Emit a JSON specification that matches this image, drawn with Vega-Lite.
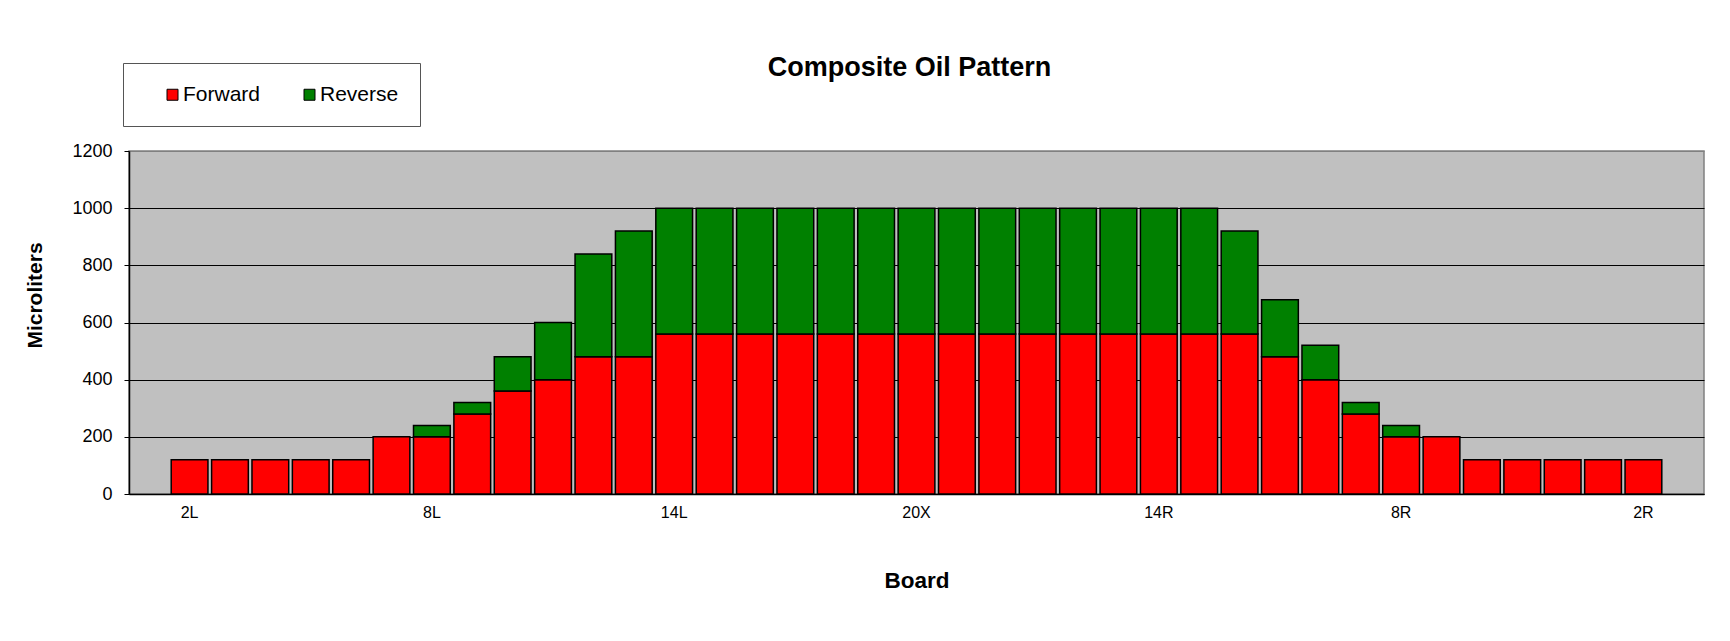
{
  "$schema": "https://vega.github.io/schema/vega-lite/v6.json",
  "autosize": {"type": "none"},
  "width": 1575,
  "height": 343,
  "padding": {"left": 129, "top": 151, "right": 26, "bottom": 147},
  "background": "white",
  "config": {
    "font": "Liberation Sans",
    "view": {"fill": "#C0C0C0", "stroke": "#808080", "strokeWidth": 1.5}
  },
  "title": {
    "text": "Composite Oil Pattern",
    "fontSize": 27,
    "fontWeight": "bold",
    "font": "Liberation Sans",
    "color": "black",
    "anchor": "middle",
    "frame": "group",
    "baseline": "alphabetic",
    "offset": 0,
    "dy": 40,
    "dx": -7
  },
  "data": {
    "values": [
      {"board": "2L", "dir": "Forward", "value": 120},
      {"board": "3L", "dir": "Forward", "value": 120},
      {"board": "4L", "dir": "Forward", "value": 120},
      {"board": "5L", "dir": "Forward", "value": 120},
      {"board": "6L", "dir": "Forward", "value": 120},
      {"board": "7L", "dir": "Forward", "value": 200},
      {"board": "8L", "dir": "Forward", "value": 200},
      {"board": "8L", "dir": "Reverse", "value": 40},
      {"board": "9L", "dir": "Forward", "value": 280},
      {"board": "9L", "dir": "Reverse", "value": 40},
      {"board": "10L", "dir": "Forward", "value": 360},
      {"board": "10L", "dir": "Reverse", "value": 120},
      {"board": "11L", "dir": "Forward", "value": 400},
      {"board": "11L", "dir": "Reverse", "value": 200},
      {"board": "12L", "dir": "Forward", "value": 480},
      {"board": "12L", "dir": "Reverse", "value": 360},
      {"board": "13L", "dir": "Forward", "value": 480},
      {"board": "13L", "dir": "Reverse", "value": 440},
      {"board": "14L", "dir": "Forward", "value": 560},
      {"board": "14L", "dir": "Reverse", "value": 440},
      {"board": "15L", "dir": "Forward", "value": 560},
      {"board": "15L", "dir": "Reverse", "value": 440},
      {"board": "16L", "dir": "Forward", "value": 560},
      {"board": "16L", "dir": "Reverse", "value": 440},
      {"board": "17L", "dir": "Forward", "value": 560},
      {"board": "17L", "dir": "Reverse", "value": 440},
      {"board": "18L", "dir": "Forward", "value": 560},
      {"board": "18L", "dir": "Reverse", "value": 440},
      {"board": "19L", "dir": "Forward", "value": 560},
      {"board": "19L", "dir": "Reverse", "value": 440},
      {"board": "20X", "dir": "Forward", "value": 560},
      {"board": "20X", "dir": "Reverse", "value": 440},
      {"board": "19R", "dir": "Forward", "value": 560},
      {"board": "19R", "dir": "Reverse", "value": 440},
      {"board": "18R", "dir": "Forward", "value": 560},
      {"board": "18R", "dir": "Reverse", "value": 440},
      {"board": "17R", "dir": "Forward", "value": 560},
      {"board": "17R", "dir": "Reverse", "value": 440},
      {"board": "16R", "dir": "Forward", "value": 560},
      {"board": "16R", "dir": "Reverse", "value": 440},
      {"board": "15R", "dir": "Forward", "value": 560},
      {"board": "15R", "dir": "Reverse", "value": 440},
      {"board": "14R", "dir": "Forward", "value": 560},
      {"board": "14R", "dir": "Reverse", "value": 440},
      {"board": "13R", "dir": "Forward", "value": 560},
      {"board": "13R", "dir": "Reverse", "value": 440},
      {"board": "12R", "dir": "Forward", "value": 560},
      {"board": "12R", "dir": "Reverse", "value": 360},
      {"board": "11R", "dir": "Forward", "value": 480},
      {"board": "11R", "dir": "Reverse", "value": 200},
      {"board": "10R", "dir": "Forward", "value": 400},
      {"board": "10R", "dir": "Reverse", "value": 120},
      {"board": "9R", "dir": "Forward", "value": 280},
      {"board": "9R", "dir": "Reverse", "value": 40},
      {"board": "8R", "dir": "Forward", "value": 200},
      {"board": "8R", "dir": "Reverse", "value": 40},
      {"board": "7R", "dir": "Forward", "value": 200},
      {"board": "6R", "dir": "Forward", "value": 120},
      {"board": "5R", "dir": "Forward", "value": 120},
      {"board": "4R", "dir": "Forward", "value": 120},
      {"board": "3R", "dir": "Forward", "value": 120},
      {"board": "2R", "dir": "Forward", "value": 120}
    ]
  },
  "mark": {"type": "bar", "stroke": "black", "strokeWidth": 1.5},
  "encoding": {
    "x": {
      "field": "board",
      "type": "nominal",
      "scale": {
        "domain": ["1L","2L","3L","4L","5L","6L","7L","8L","9L","10L","11L","12L","13L","14L","15L","16L","17L","18L","19L","20X","19R","18R","17R","16R","15R","14R","13R","12R","11R","10R","9R","8R","7R","6R","5R","4R","3R","2R","1R"],
        "paddingInner": 0.09,
        "paddingOuter": 0.045
      },
      "axis": {
        "title": "Board",
        "titleFontSize": 22.5,
        "titleFontWeight": "bold",
        "titleColor": "black",
        "titleY": 86,
        "titleBaseline": "middle",
        "values": ["2L","8L","14L","20X","14R","8R","2R"],
        "labelAngle": 0,
        "labelFontSize": 16,
        "labelColor": "black",
        "labelPadding": 10,
        "ticks": false,
        "domainColor": "black",
        "domainWidth": 1.5,
        "grid": false
      }
    },
    "y": {
      "field": "value",
      "type": "quantitative",
      "stack": "zero",
      "scale": {"domain": [0, 1200], "nice": false},
      "axis": {
        "title": "Microliters",
        "titleFontSize": 21,
        "titleFontWeight": "bold",
        "titleColor": "black",
        "titleX": -94,
        "titleY": 144,
        "titleAlign": "center",
        "titleBaseline": "middle",
        "values": [0, 200, 400, 600, 800, 1000, 1200],
        "format": "d",
        "labelFontSize": 18,
        "labelColor": "black",
        "labelPadding": 12,
        "tickSize": 5,
        "tickColor": "black",
        "domainColor": "black",
        "domainWidth": 1.5,
        "grid": true,
        "gridColor": {"condition": {"test": "datum.value == 1200", "value": "#808080"}, "value": "black"},
        "gridWidth": 1.2,
        "gridOpacity": 1
      }
    },
    "color": {
      "field": "dir",
      "type": "nominal",
      "scale": {"domain": ["Forward", "Reverse"], "range": ["#FF0000", "#008000"]},
      "legend": {
        "title": null,
        "orient": "none",
        "direction": "horizontal",
        "legendX": -6,
        "legendY": -88,
        "padding": 21,
        "fillColor": "white",
        "strokeColor": "#555555",
        "symbolType": "square",
        "symbolSize": 121,
        "symbolStrokeColor": "black",
        "symbolStrokeWidth": 1,
        "symbolOffset": 18,
        "symbolOpacity": 1,
        "labelFontSize": 21,
        "labelColor": "black",
        "labelOffset": 0,
        "columnPadding": 20
      }
    },
    "order": {"field": "dir", "sort": "ascending"}
  }
}
